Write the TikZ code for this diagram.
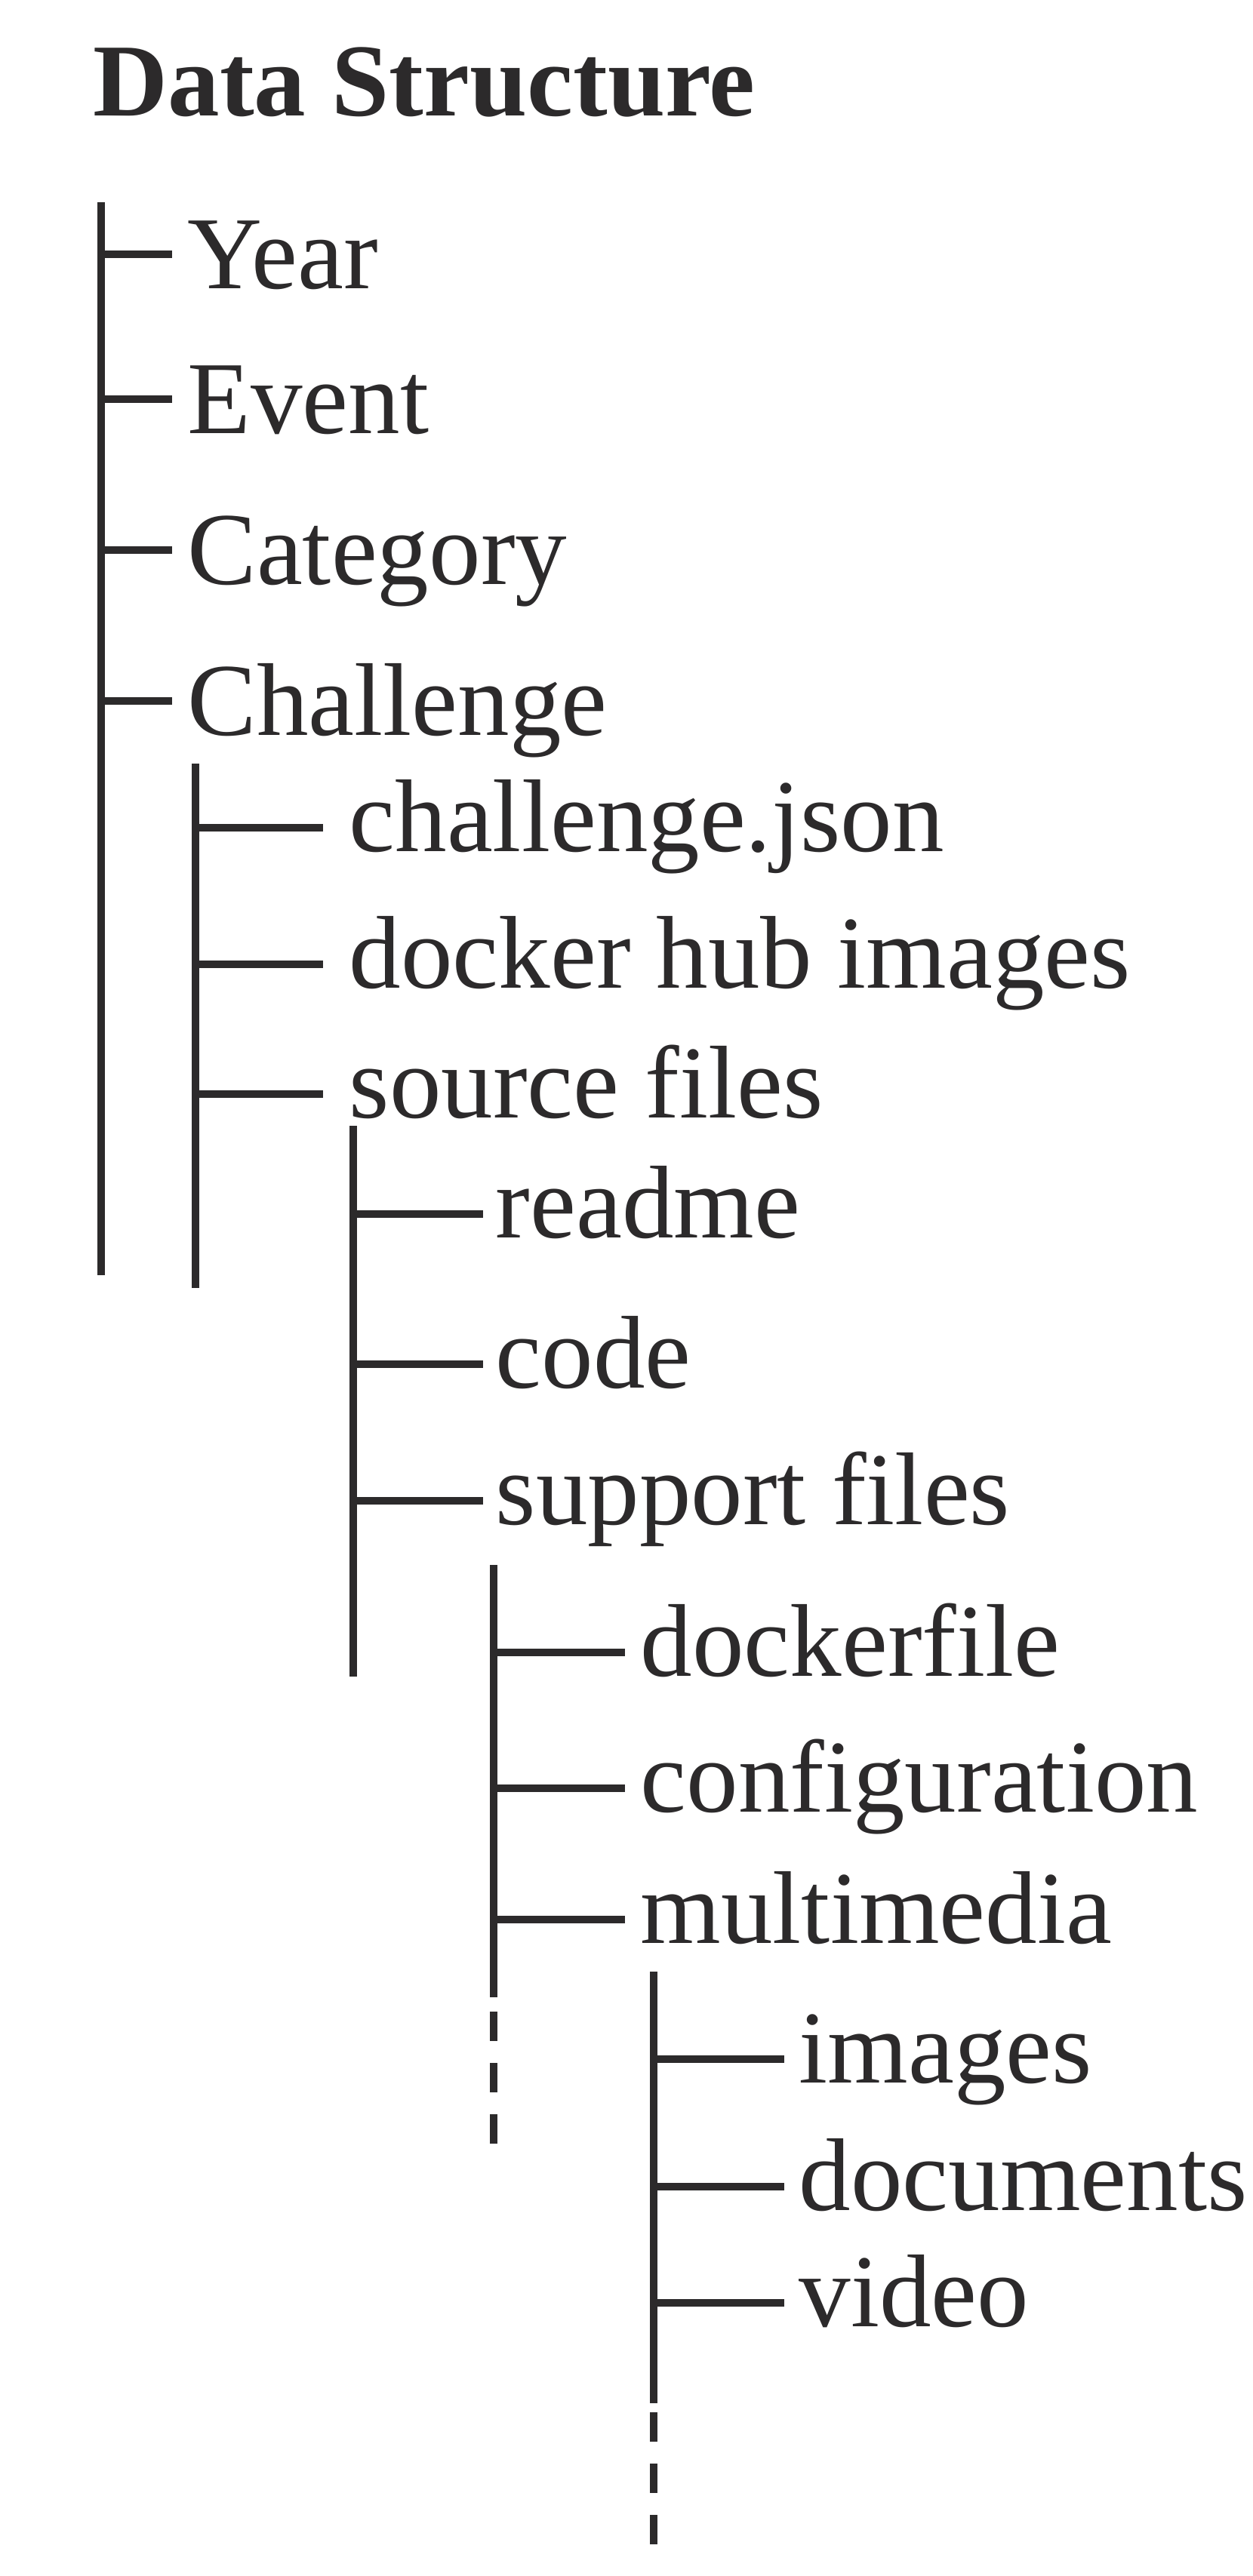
\documentclass[tikz,border=0pt]{standalone}
\usepackage{fontspec}
\setmainfont{Liberation Serif}
\usepackage{tikz}
\usetikzlibrary{positioning}
\definecolor{ink}{RGB}{44,42,43}

\begin{document}
\begin{tikzpicture}[
    entry/.style={anchor=west, inner sep=0pt, text=ink, font=\fontsize{39}{47}\selectfont, text height=0.96cm, text depth=0.33cm},
    rootentry/.style={entry, text height=1.10cm, text depth=0.19cm},
    stem/.style={draw=ink, line width=0.1cm},
    tail/.style={stem, dash pattern=on 0.39cm off 0.29cm}
]
\useasboundingbox (0,0) rectangle (16.59,-34.14);

% Title
\node[anchor=base west, inner sep=0pt, text=ink, font=\fontsize{39}{47}\selectfont\bfseries] (title) at (1.23,-1.53) {Data Structure};

% Nodes
\node[rootentry] (yr) at (2.48,-3.37) {Year};
\node[rootentry] (ev) at (2.48,-5.29) {Event};
\node[rootentry] (cat) at (2.48,-7.29) {Category};
\node[rootentry] (chal) at (2.48,-9.29) {Challenge};

\node[entry] (cj) at (4.62,-10.97) {challenge.json};
\node[entry] (dh) at (4.62,-12.78) {docker hub images};
\node[entry] (sf) at (4.62,-14.50) {source files};

\node[entry] (rm) at (6.56,-16.09) {readme};
\node[entry] (cd) at (6.56,-18.08) {code};
\node[entry] (spf) at (6.56,-19.89) {support files};

\node[entry] (dk) at (8.48,-21.90) {dockerfile};
\node[entry] (cf) at (8.48,-23.70) {configuration};
\node[entry] (mm) at (8.48,-25.44) {multimedia};

\node[entry] (im) at (10.58,-27.29) {images};
\node[entry] (doc) at (10.58,-28.98) {documents};
\node[entry] (vid) at (10.58,-30.52) {video};

% Stems
\coordinate (l0a) at (1.34,-2.68);
\coordinate (l0b) at (1.34,-16.90);
\coordinate (l1a) at (2.59,-10.12);
\coordinate (l1b) at (2.59,-17.07);
\coordinate (l2a) at (4.68,-14.92);
\coordinate (l2b) at (4.68,-22.22);
\coordinate (l3a) at (6.54,-20.74);
\coordinate (l3b) at (6.54,-26.47);
\coordinate (l3c) at (6.54,-26.66);
\coordinate (l3d) at (6.54,-28.42);
\coordinate (l4a) at (8.66,-26.13);
\coordinate (l4b) at (8.66,-31.85);
\coordinate (l4c) at (8.66,-31.97);
\coordinate (l4d) at (8.66,-33.72);

\draw[stem] (l0a) -- (l0b);
\draw[stem] (l1a) -- (l1b);
\draw[stem] (l2a) -- (l2b);
\draw[stem] (l3a) -- (l3b);
\draw[tail] (l3c) -- (l3d);
\draw[stem] (l4a) -- (l4b);
\draw[tail] (l4c) -- (l4d);

% Branches
\draw[stem, shorten >=0.20cm] (l0a |- yr.west) -- (yr.west);
\draw[stem, shorten >=0.20cm] (l0a |- ev.west) -- (ev.west);
\draw[stem, shorten >=0.20cm] (l0a |- cat.west) -- (cat.west);
\draw[stem, shorten >=0.20cm] (l0a |- chal.west) -- (chal.west);

\draw[stem, shorten >=0.34cm] (l1a |- cj.west) -- (cj.west);
\draw[stem, shorten >=0.34cm] (l1a |- dh.west) -- (dh.west);
\draw[stem, shorten >=0.34cm] (l1a |- sf.west) -- (sf.west);

\draw[stem, shorten >=0.16cm] (l2a |- rm.west) -- (rm.west);
\draw[stem, shorten >=0.16cm] (l2a |- cd.west) -- (cd.west);
\draw[stem, shorten >=0.16cm] (l2a |- spf.west) -- (spf.west);

\draw[stem, shorten >=0.20cm] (l3a |- dk.west) -- (dk.west);
\draw[stem, shorten >=0.20cm] (l3a |- cf.west) -- (cf.west);
\draw[stem, shorten >=0.20cm] (l3a |- mm.west) -- (mm.west);

\draw[stem, shorten >=0.19cm] (l4a |- im.west) -- (im.west);
\draw[stem, shorten >=0.19cm] (l4a |- doc.west) -- (doc.west);
\draw[stem, shorten >=0.19cm] (l4a |- vid.west) -- (vid.west);

\end{tikzpicture}
\end{document}
